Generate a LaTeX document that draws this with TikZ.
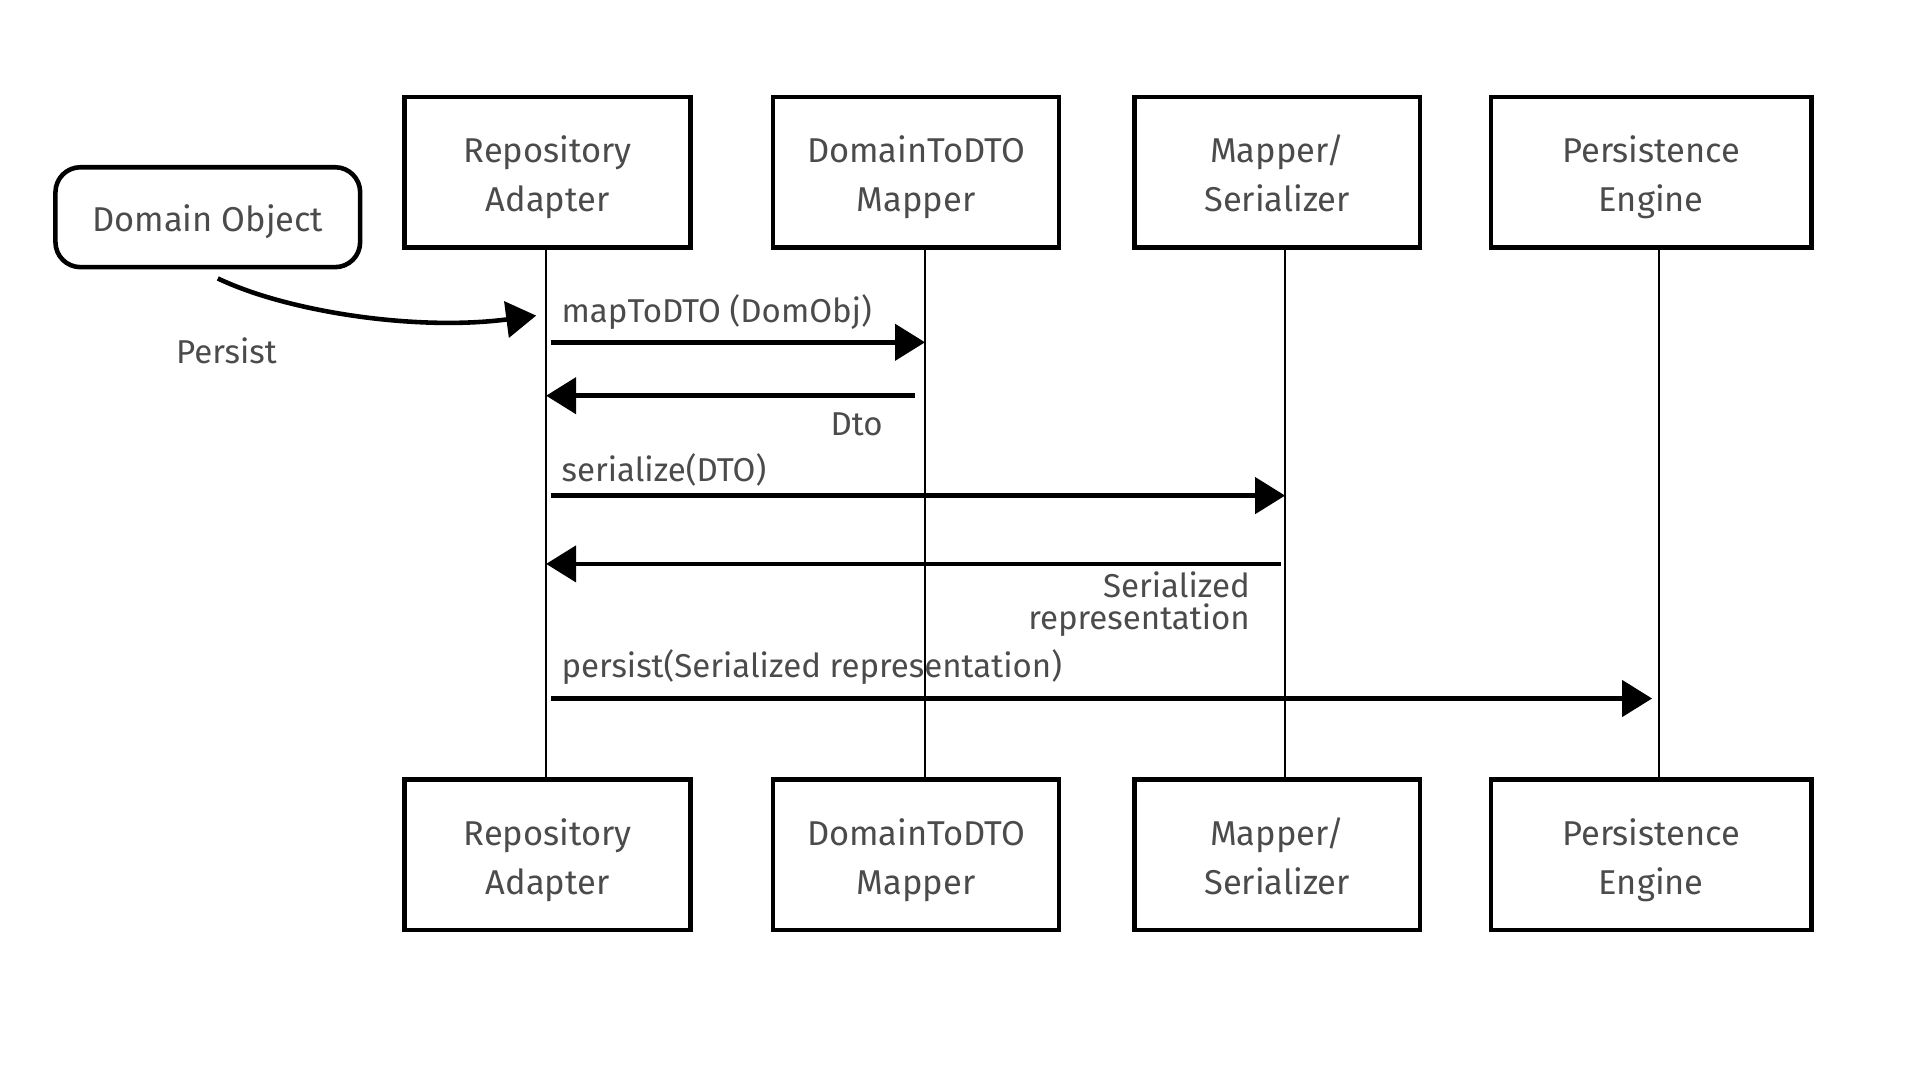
\documentclass[tikz,border=0pt]{standalone}
\usepackage{fontspec}
\setmainfont{Fira Sans}
\usetikzlibrary{arrows.meta}
\definecolor{inkgray}{RGB}{75,75,75}
\newcommand{\twolines}[2]{\rule{0pt}{12.8pt}#1\\\strut#2}
\tikzset{
  actor/.style={draw=black,line width=1.3pt,minimum width=2.859cm,minimum height=1.504cm,inner sep=0pt,align=center,text=inkgray,font=\fontsize{9.8}{14}\selectfont},
  lifeline/.style={draw=black,line width=0.7pt},
  msg/.style={-{Triangle[length=0.3cm,width=0.36cm]},line width=1.3pt},
  msglabel/.style={text=inkgray,inner sep=0pt,font=\fontsize{9.4}{9.2}\selectfont},
}

\begin{document}
\begin{tikzpicture}
\useasboundingbox (0,0) rectangle (19.2,-10.8);
% \draw[help lines] (0,0) grid (19.2,-10.8);
\node (ra) [actor] at (5.476,-1.721) {\twolines{Repository}{Adapter}};
\node (dm) [actor] at (9.161,-1.721) {\twolines{DomainToDTO}{Mapper}};
\node (ms) [actor] at (12.772,-1.721) {\twolines{Mapper/}{Serializer}};
\node (pe) [actor,minimum width=3.205cm] at (16.512,-1.721) {\twolines{Persistence}{Engine}};
\node (ra2) [actor] at (5.476,-8.548) {\twolines{Repository}{Adapter}};
\node (dm2) [actor] at (9.161,-8.548) {\twolines{DomainToDTO}{Mapper}};
\node (ms2) [actor] at (12.772,-8.548) {\twolines{Mapper/}{Serializer}};
\node (pe2) [actor,minimum width=3.205cm] at (16.512,-8.548) {\twolines{Persistence}{Engine}};
\node (dobj) [actor,rounded corners=0.25cm,minimum width=3.047cm,minimum height=0.999cm,text height=10.5pt,text depth=2.1pt] at (2.078,-2.172) {Domain Object};
%
\draw[lifeline] ([xshift=-0.15mm]ra.south) -- ([xshift=-0.15mm]ra2.north);
\draw[lifeline] ([xshift=0.9mm]dm.south) -- ([xshift=0.9mm]dm2.north);
\draw[lifeline] ([xshift=0.8mm]ms.south) -- ([xshift=0.8mm]ms2.north);
\draw[lifeline] ([xshift=0.8mm]pe.south) -- ([xshift=0.8mm]pe2.north);
%
\coordinate (p0) at (5.362,-3.156);
\coordinate (m1a) at (5.510,-3.423);
\coordinate (m1b) at (9.250,-3.423);
\coordinate (m2a) at (9.151,-3.957);
\coordinate (m2b) at (5.461,-3.957);
\coordinate (m3a) at (5.510,-4.956);
\coordinate (m3b) at (12.851,-4.956);
\coordinate (m4a) at (12.811,-5.639);
\coordinate (m4b) at (5.461,-5.639);
\coordinate (m5a) at (5.510,-6.985);
\coordinate (m5b) at (16.521,-6.985);
%
\draw[msg] ([xshift=1mm,yshift=-0.9mm]dobj.south) .. controls (2.869,-3.116) and (4.155,-3.314) .. (p0);
\path[msg] (m1a) edge (m1b);
\path[msg] (m2a) edge (m2b);
\path[msg] (m3a) edge (m3b);
\path[msg] (m4a) edge (m4b);
\path[msg] (m5a) edge (m5b);
%
\node (lpersist) [msglabel] at (2.265,-3.512) {Persist};
\node (lmap) [msglabel,anchor=west] at (5.609,-3.116) {mapToDTO (DomObj)};
\node (ldto) [msglabel,anchor=east] at (8.834,-4.244) {Dto};
\node (lser) [msglabel,anchor=west] at (5.609,-4.699) {serialize(DTO)};
\node (lrep) [msglabel,anchor=east,align=right] at (12.505,-6.040) {Serialized\\representation};
\node (lpst) [msglabel,anchor=west] at (5.609,-6.668) {persist(Serialized representation)};
\end{tikzpicture}
\end{document}
